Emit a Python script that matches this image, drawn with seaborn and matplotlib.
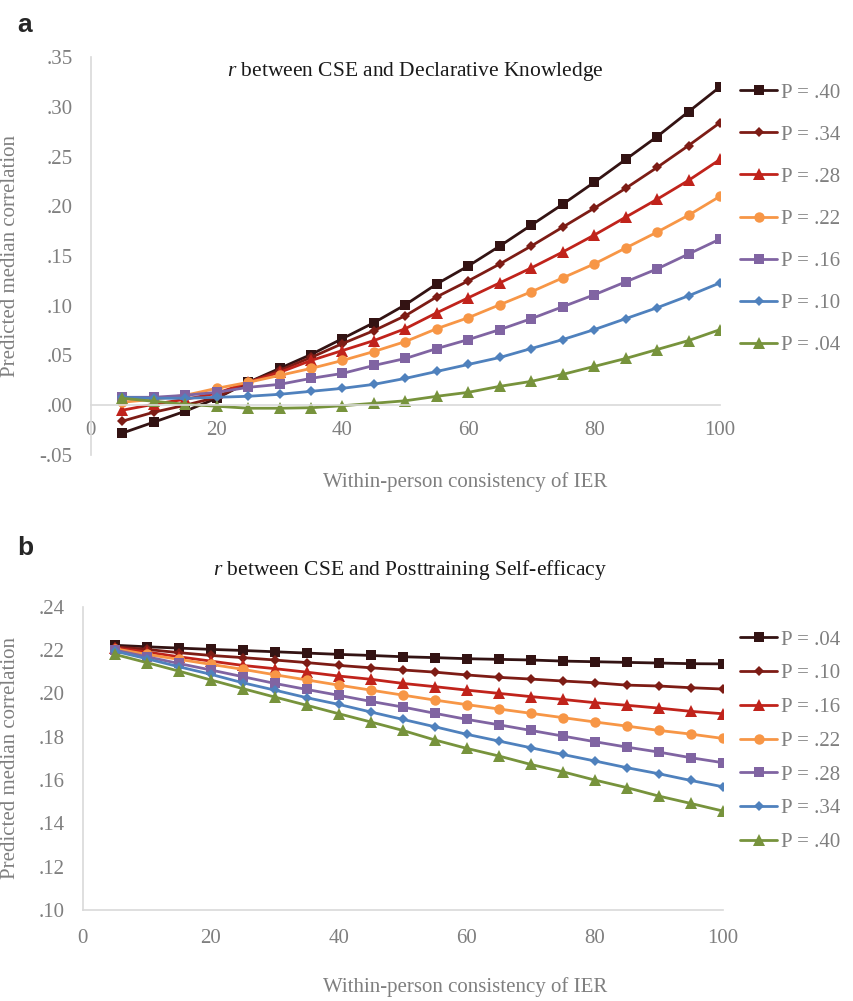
import numpy as np
import pandas as pd
import seaborn as sns
import matplotlib.pyplot as plt

# x positions (within-person consistency of IER)
consistency = [5, 10, 15, 20, 25, 30, 35, 40, 45, 50, 55, 60, 65, 70, 75, 80, 85, 90, 95, 100]

# panel a: r between CSE and Declarative Knowledge
a_labels = ["P = .40", "P = .34", "P = .28", "P = .22", "P = .16", "P = .10", "P = .04"]
a_p40 = [-0.028, -0.017, -0.006, 0.007, 0.023, 0.037, 0.051, 0.067, 0.083, 0.101,
         0.122, 0.140, 0.160, 0.181, 0.202, 0.224, 0.247, 0.270, 0.295, 0.320]
a_p34 = [-0.016, -0.007, 0.000, 0.008, 0.023, 0.035, 0.048, 0.062, 0.075, 0.090,
         0.109, 0.125, 0.142, 0.160, 0.179, 0.198, 0.218, 0.239, 0.261, 0.284]
a_p28 = [-0.005, 0.001, 0.006, 0.012, 0.023, 0.033, 0.045, 0.055, 0.065, 0.077,
         0.093, 0.108, 0.123, 0.138, 0.154, 0.171, 0.189, 0.207, 0.226, 0.247]
a_p22 = [0.003, 0.006, 0.010, 0.017, 0.023, 0.030, 0.037, 0.045, 0.054, 0.064,
         0.077, 0.088, 0.101, 0.114, 0.128, 0.142, 0.158, 0.174, 0.191, 0.210]
a_p16 = [0.008, 0.008, 0.010, 0.013, 0.018, 0.021, 0.027, 0.032, 0.040, 0.047,
         0.057, 0.066, 0.076, 0.087, 0.099, 0.111, 0.124, 0.137, 0.152, 0.167]
a_p10 = [0.008, 0.007, 0.007, 0.008, 0.009, 0.011, 0.014, 0.017, 0.021, 0.027,
         0.034, 0.041, 0.048, 0.057, 0.066, 0.076, 0.087, 0.098, 0.110, 0.123]
a_p04 = [0.007, 0.004, 0.001, -0.001, -0.003, -0.003, -0.0025, -0.0005, 0.002, 0.0045,
         0.009, 0.013, 0.019, 0.024, 0.031, 0.039, 0.047, 0.056, 0.065, 0.076]

# panel b: r between CSE and Posttraining Self-efficacy
b_labels = ["P = .04", "P = .10", "P = .16", "P = .22", "P = .28", "P = .34", "P = .40"]
b_p04 = [0.2222, 0.2215, 0.2209, 0.2203, 0.2198, 0.2192, 0.2186, 0.2180, 0.2175, 0.2169,
         0.2165, 0.2160, 0.2157, 0.2154, 0.2149, 0.2146, 0.2143, 0.2140, 0.2137, 0.2136]
b_p10 = [0.2215, 0.2203, 0.2188, 0.2175, 0.2165, 0.2154, 0.2142, 0.2129, 0.2118, 0.2108,
         0.2098, 0.2085, 0.2074, 0.2066, 0.2057, 0.2049, 0.2038, 0.2034, 0.2026, 0.2020]
b_p16 = [0.2210, 0.2191, 0.2169, 0.2149, 0.2129, 0.2114, 0.2098, 0.2080, 0.2065, 0.2046,
         0.2031, 0.2015, 0.2000, 0.1985, 0.1972, 0.1957, 0.1945, 0.1932, 0.1917, 0.1906]
b_p22 = [0.2206, 0.2180, 0.2157, 0.2134, 0.2111, 0.2086, 0.2062, 0.2038, 0.2015, 0.1992,
         0.1969, 0.1948, 0.1928, 0.1908, 0.1888, 0.1868, 0.1849, 0.1829, 0.1812, 0.1792]
b_p28 = [0.2200, 0.2169, 0.2138, 0.2108, 0.2077, 0.2046, 0.2018, 0.1991, 0.1963, 0.1937,
         0.1908, 0.1880, 0.1855, 0.1829, 0.1803, 0.1777, 0.1752, 0.1729, 0.1703, 0.1680]
b_p34 = [0.2195, 0.2160, 0.2123, 0.2088, 0.2049, 0.2015, 0.1980, 0.1949, 0.1914, 0.1880,
         0.1846, 0.1811, 0.1780, 0.1749, 0.1718, 0.1688, 0.1657, 0.1629, 0.1598, 0.1569]
b_p40 = [0.2180, 0.2142, 0.2103, 0.2062, 0.2022, 0.1983, 0.1945, 0.1906, 0.1868, 0.1829,
         0.1785, 0.1746, 0.1711, 0.1672, 0.1638, 0.1600, 0.1565, 0.1526, 0.1492, 0.1457]

# styling, top line to bottom line
colors = ['#331313', '#7d1c15', '#c0231b', '#f79646', '#8064a2', '#4f81bd', '#77933c']
markers = ['s', 'D', '^', 'o', 's', 'D', '^']
msizes = [7.5, 5.0, 8.0, 7.5, 7.5, 5.0, 8.0]

GRAY = '#7f7f7f'
AXIS = '#d9d9d9'

sns.set_style('white')
plt.rcParams['font.family'] = ['Liberation Serif', 'DejaVu Serif']
plt.rcParams['mathtext.fontset'] = 'custom'
plt.rcParams['mathtext.it'] = 'Liberation Serif:italic'
plt.rcParams['mathtext.rm'] = 'Liberation Serif'

W, H = 854, 1001
fig = plt.figure(figsize=(W / 100, H / 100), dpi=100)


def px_axes(left, right, top, bottom):
    return fig.add_axes([left / W, 1 - bottom / H, (right - left) / W, (bottom - top) / H])


def draw_panel(ax, labels, series, ylim, yticks, leg_top, leg_spacing):
    df = pd.DataFrame({'x': np.tile(consistency, len(series)),
                       'y': np.concatenate(series),
                       'P': np.repeat(labels, len(consistency))})
    for i, lab in enumerate(labels):
        sns.lineplot(data=df[df['P'] == lab], x='x', y='y', ax=ax, color=colors[i],
                     marker=markers[i], markersize=msizes[i], markeredgewidth=0,
                     linewidth=2.0, label=lab)
    ax.set_xlim(0, 100)
    ax.set_ylim(*ylim)
    ax.set_xticks([0, 20, 40, 60, 80, 100])
    ax.set_yticks(yticks)
    ax.set_yticklabels([('-' if v < 0 else '') + f"{abs(v):.2f}"[1:] for v in yticks])
    for s in ['top', 'right']:
        ax.spines[s].set_visible(False)
    for s in ['left', 'bottom']:
        ax.spines[s].set_color(AXIS)
        ax.spines[s].set_linewidth(1.2)
    ax.tick_params(axis='x', direction='in', length=5, color=AXIS, width=1.2,
                   labelsize=15, labelcolor=GRAY, pad=11)
    ax.tick_params(axis='y', length=0, labelsize=15, labelcolor=GRAY, pad=13)
    ax.grid(False)
    handles, labs = ax.get_legend_handles_labels()
    ax.legend(handles, labs, loc='upper left', frameon=False, fontsize=15,
              labelcolor=GRAY, handlelength=1.8, handletextpad=0.15,
              labelspacing=leg_spacing, borderpad=0, borderaxespad=0,
              bbox_to_anchor=(740 / W, 1 - leg_top / H), bbox_transform=fig.transFigure)
    ax.set_ylabel('Predicted median correlation', fontsize=15, color=GRAY)
    ax.set_xlabel('Within-person consistency of IER', fontsize=15, color=GRAY)


# panel a
ax_a = px_axes(90.8, 720, 57, 455)
draw_panel(ax_a, a_labels, [a_p40, a_p34, a_p28, a_p22, a_p16, a_p10, a_p04],
           (-0.05, 0.35), [-0.05, 0.0, 0.05, 0.10, 0.15, 0.20, 0.25, 0.30, 0.35],
           leg_top=83, leg_spacing=1.08)
ax_a.spines['bottom'].set_position(('data', 0))
ax_a.yaxis.set_label_coords((20 - 90.8) / 629.2, 0.5)
ax_a.xaxis.set_label_coords((465 - 90.8) / 629.2, (455 - 472) / 398)
ax_a.text((415 - 90.8) / 629.2, (455 - 71.7) / 398,
          '$r$ between CSE and Declarative Knowledge', transform=ax_a.transAxes,
          ha='center', va='center', fontsize=15.5, color='#1a1a1a')

# panel b
ax_b = px_axes(82.7, 722.7, 606.7, 910)
draw_panel(ax_b, b_labels, [b_p04, b_p10, b_p16, b_p22, b_p28, b_p34, b_p40],
           (0.10, 0.24), [0.10, 0.12, 0.14, 0.16, 0.18, 0.20, 0.22, 0.24],
           leg_top=630, leg_spacing=0.68)
ax_b.tick_params(axis='x', pad=14)
ax_b.yaxis.set_label_coords((20 - 82.7) / 640, 0.5)
ax_b.xaxis.set_label_coords((465 - 82.7) / 640, (910 - 977) / 303.3)
ax_b.text((410 - 82.7) / 640, (910 - 570) / 303.3,
          '$r$ between CSE and Posttraining Self-efficacy', transform=ax_b.transAxes,
          ha='center', va='center', fontsize=15.5, color='#1a1a1a')

# panel letters
fig.text(17 / W, 1 - 25 / H, 'a', fontsize=19, fontweight='bold',
         family=['Liberation Sans', 'DejaVu Sans'], va='center', ha='left')
fig.text(17 / W, 1 - 548 / H, 'b', fontsize=19, fontweight='bold',
         family=['Liberation Sans', 'DejaVu Sans'], va='center', ha='left')

fig.savefig('out.png', dpi=100)
